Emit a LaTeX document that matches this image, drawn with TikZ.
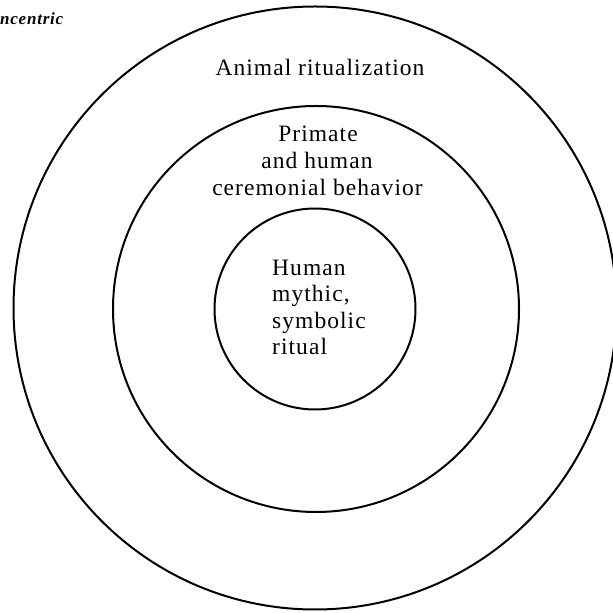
\documentclass[tikz,border=0pt]{standalone}
\usepackage{fontspec}
\setmainfont{Liberation Serif}[LetterSpace=4.5]
\begin{document}
\begin{tikzpicture}[x=1pt,y=1pt,
  ring/.style={draw=black, line width=2pt, circle, inner sep=0pt, minimum size=#1},
  lbl/.style={inner sep=0pt, anchor=base, font=\fontsize{23.5}{26}\selectfont},
  lbll/.style={inner sep=0pt, anchor=base west, font=\fontsize{23.5}{26}\selectfont}]
\useasboundingbox (0,0) rectangle (613,613);
\clip (0,0) rectangle (613,613);
\node[ring=603pt] (outer) at (315,305) {};
\node[ring=406pt] (middle) at (316,304) {};
\node[ring=201pt] (inner) at (315,304) {};
\node[lbl] (animal) at (320,537.6) {Animal ritualization};
\node[lbl] (prim1) at (318,471.5) {Primate};
\node[lbl] (prim2) at (317,444) {and human};
\node[lbl] (prim3) at (317.5,417.5) {ceremonial behavior};
\node[lbll] (hum1) at (272,337.4) {Human};
\node[lbll] (hum2) at (272,311) {mythic,};
\node[lbll] (hum3) at (272,284.5) {symbolic};
\node[lbll] (hum4) at (272,258) {ritual};
\node[inner sep=0pt, anchor=base west, font=\fontsize{17}{20}\selectfont\itshape\bfseries] (title) at (0,588) {ncentric};
\end{tikzpicture}
\end{document}
